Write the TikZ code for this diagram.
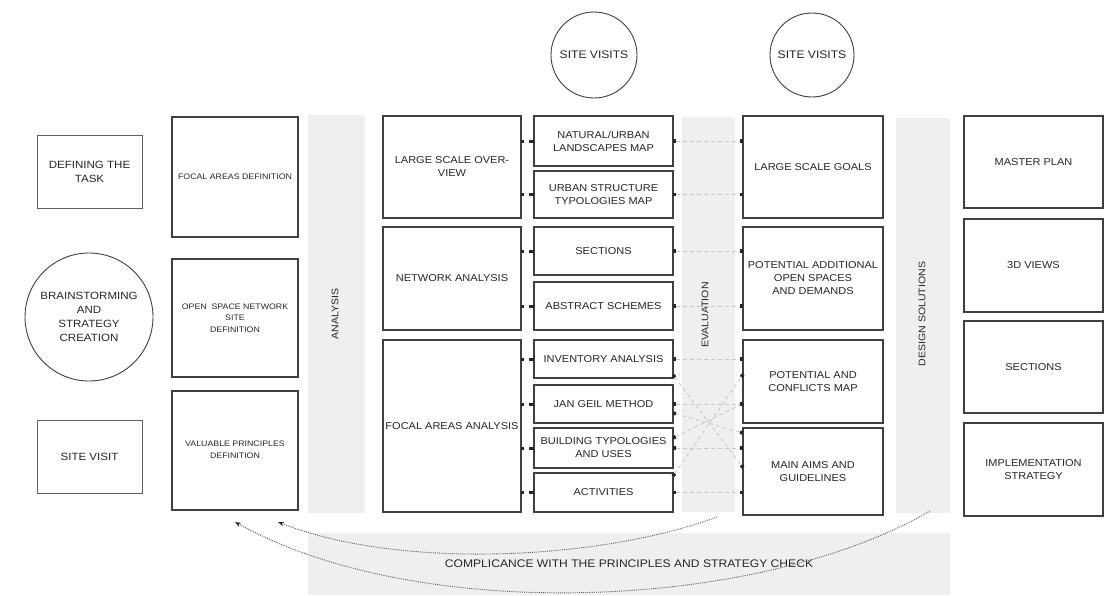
\documentclass[tikz,border=0pt]{standalone}
\usepackage{fontspec}
\setmainfont{Liberation Sans}
\newfontfamily\labfont[FakeStretch=1.1]{Liberation Sans}
\usetikzlibrary{arrows.meta,calc}

\definecolor{bandgray}{HTML}{EFEFEF}
\definecolor{inkgray}{HTML}{262626}

\begin{document}
\begin{tikzpicture}[x=1pt,y=-1pt,
  every node/.style={inner sep=0pt, outer sep=0pt, text=inkgray, align=center},
  box/.style={rectangle, draw=black!75, line width=1.5pt, fill=white},
  thinbox/.style={rectangle, draw=black!62, line width=1pt, fill=white},
  ring/.style={circle, draw=black!75, line width=0.9pt, fill=white},
  band/.style={rectangle, fill=bandgray},
  biglab/.style={font=\labfont\fontsize{10}{13}\selectfont},
  smalllab/.style={font=\labfont\fontsize{8}{11.5}\selectfont},
  sidelab/.style={font=\labfont\fontsize{10.5}{14}\selectfont},
  bandlab/.style={font=\labfont\fontsize{9.6}{12}\selectfont},
  linkA/.style={draw=black!85, line width=3pt, dash pattern=on 3pt off 5pt on 5pt off 0pt},
  linkB/.style={draw=black!22, line width=0.8pt, dash pattern=on 4pt off 3pt,
    arrows={Rectangle[length=3pt,width=3.5pt,color=black!85]-Rectangle[length=3pt,width=3.5pt,color=black!85]}},
  backarrow/.style={draw=black!62, line width=0.9pt, densely dotted,
    arrows={-Stealth[length=6pt,width=4.5pt,color=black!85]}}
]
\useasboundingbox (0,0) rectangle (1104,595);

% grey phase bands
\node[band, minimum width=57, minimum height=398] (ana) at (336.5,314) {};
\node[band, minimum width=53, minimum height=395] (eval) at (708.5,314.5) {};
\node[band, minimum width=54, minimum height=395] (des) at (923,315.5) {};
\node[band, minimum width=642, minimum height=62, font=\labfont\fontsize{11}{13}\selectfont] (chk) at (629,564)
  {COMPLICANCE WITH THE PRINCIPLES AND STRATEGY CHECK};
\node[bandlab, rotate=90] (anatxt) at (335,314) {ANALYSIS};
\node[bandlab, rotate=90] (evaltxt) at (705,315) {EVALUATION};
\node[bandlab, rotate=90] (destxt) at (922,314) {DESIGN SOLUTIONS};

% site visit circles
\node[ring, minimum size=86, font=\labfont\fontsize{11}{13}\selectfont] (sv1) at (594,55) {SITE VISITS};
\node[ring, minimum size=84, font=\labfont\fontsize{11}{13}\selectfont] (sv2) at (812,55) {SITE VISITS};

% first column
\node[thinbox, sidelab, minimum width=105, minimum height=73] (task) at (89.5,171.5) {DEFINING THE\\TASK};
\node[ring, sidelab, minimum size=128] (brain) at (89,317) {BRAINSTORMING\\AND\\STRATEGY\\CREATION};
\node[thinbox, sidelab, minimum width=105, minimum height=73] (sitev) at (89.5,456.5) {SITE VISIT};

% second column
\node[box, smalllab, minimum width=126, minimum height=120] (fad) at (235,177) {FOCAL AREAS DEFINITION};
\node[box, smalllab, minimum width=126, minimum height=118] (osn) at (235,318) {OPEN\ \ SPACE NETWORK\\SITE\\DEFINITION};
\node[box, smalllab, minimum width=126, minimum height=119] (vpd) at (235,450.5) {\raisebox{2pt}{VALUABLE PRINCIPLES}\\\raisebox{2pt}{DEFINITION}};

% analysis groups
\node[box, biglab, minimum width=138, minimum height=102] (lso) at (452,167) {LARGE SCALE OVER-\\VIEW};
\node[box, biglab, minimum width=138, minimum height=103] (net) at (452,278.5) {NETWORK ANALYSIS};
\node[box, biglab, minimum width=138, minimum height=172] (faa) at (452,426) {FOCAL AREAS ANALYSIS};

% analysis tools
\node[box, biglab, minimum width=139, minimum height=50] (nat) at (603.5,141) {NATURAL/URBAN\\LANDSCAPES MAP};
\node[box, biglab, minimum width=139, minimum height=47] (urb) at (603.5,194.5) {URBAN STRUCTURE\\TYPOLOGIES MAP};
\node[box, biglab, minimum width=139, minimum height=48] (sec) at (603.5,251) {SECTIONS};
\node[box, biglab, minimum width=139, minimum height=48] (abs) at (603.5,306) {ABSTRACT SCHEMES};
\node[box, biglab, minimum width=139, minimum height=38] (inv) at (603.5,359) {INVENTORY ANALYSIS};
\node[box, biglab, minimum width=139, minimum height=38] (jan) at (603.5,404) {JAN GEIL METHOD};
\node[box, biglab, minimum width=139, minimum height=40] (bld) at (603.5,448) {BUILDING TYPOLOGIES\\AND USES};
\node[box, biglab, minimum width=139, minimum height=39] (act) at (603.5,492.5) {ACTIVITIES};

% evaluation results
\node[box, biglab, minimum width=140, minimum height=102] (lsg) at (813,167) {LARGE SCALE GOALS};
\node[box, biglab, minimum width=140, minimum height=103] (pad) at (813,278.5) {POTENTIAL ADDITIONAL\\OPEN SPACES\\AND DEMANDS};
\node[box, biglab, minimum width=140, minimum height=83] (conf) at (813,381.5) {POTENTIAL AND\\CONFLICTS MAP};
\node[box, biglab, minimum width=140, minimum height=87] (aims) at (813,471.5) {MAIN AIMS AND\\GUIDELINES};

% design outputs
\node[box, biglab, minimum width=139, minimum height=92] (mp) at (1033.5,162) {MASTER PLAN};
\node[box, biglab, minimum width=139, minimum height=93] (v3d) at (1033.5,265.5) {3D VIEWS};
\node[box, biglab, minimum width=139, minimum height=92] (rsec) at (1033.5,367) {SECTIONS};
\node[box, biglab, minimum width=139, minimum height=93] (impl) at (1033.5,469.5) {IMPLEMENTATION\\STRATEGY};

% group -> tool links
\draw[linkA] (lso.east |- nat.west) -- (nat.west);
\draw[linkA] (lso.east |- urb.west) -- (urb.west);
\draw[linkA] (net.east |- sec.west) -- (sec.west);
\draw[linkA] (net.east |- abs.west) -- (abs.west);
\draw[linkA] (faa.east |- inv.west) -- (inv.west);
\draw[linkA] (faa.east |- jan.west) -- (jan.west);
\draw[linkA] (faa.east |- bld.west) -- (bld.west);
\draw[linkA] (faa.east |- act.west) -- (act.west);

% tool -> result links
\draw[linkB] (nat.east) -- (nat.east -| lsg.west);
\draw[linkB] (urb.east) -- (urb.east -| lsg.west);
\draw[linkB] (sec.east) -- (sec.east -| pad.west);
\draw[linkB] (abs.east) -- (abs.east -| pad.west);
\draw[linkB] (inv.east) -- (inv.east -| conf.west);
\draw[linkB] (jan.east) -- (jan.east -| conf.west);
\draw[linkB] (bld.east) -- (bld.east -| aims.west);
\draw[linkB] (act.east) -- (act.east -| aims.west);
\draw[linkB] ($(inv.east)+(0,16)$) -- ($(aims.west)+(0,-4)$);
\draw[linkB] ($(jan.east)+(0,9)$) -- ($(aims.north west)+(0,5)$);
\draw[linkB] ($(bld.east)+(0,-10)$) -- ($(conf.west)+(0,22)$);
\draw[linkB] ($(act.north east)+(0,3)$) -- ($(conf.west)+(0,-7)$);

% compliance feedback loops
\coordinate (evalfoot) at ($(eval.south)+(8.5,5)$);
\coordinate (desfoot) at ($(des.south)+(7,-2)$);
\coordinate (tipA) at ($(vpd.south)+(0,12)$);
\coordinate (tipB) at ($(vpd.south)+(43,12)$);
\draw[backarrow] (desfoot) .. controls (760,610) and (420,625) .. (tipA);
\draw[backarrow] (evalfoot) .. controls (600,560) and (400,570) .. (tipB);
\end{tikzpicture}
\end{document}
